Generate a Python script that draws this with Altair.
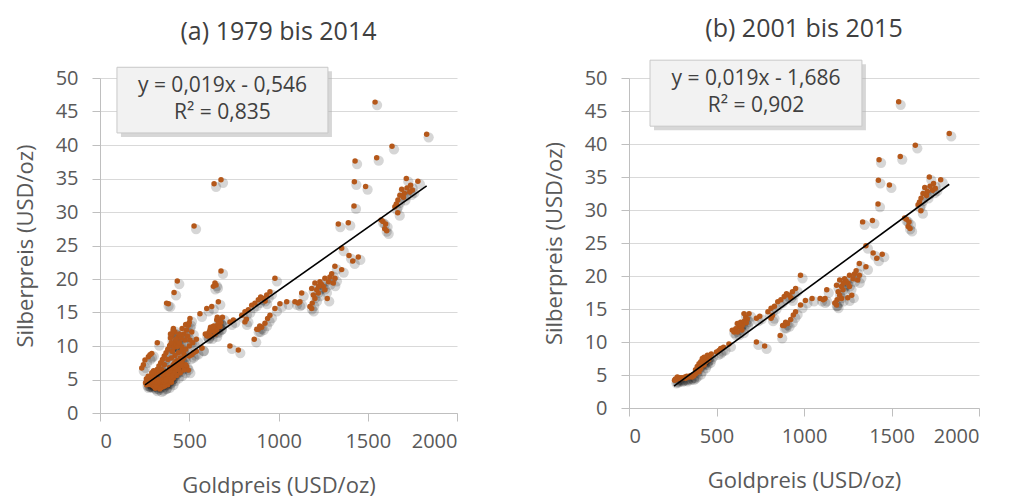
import altair as alt
import pandas as pd

# ---------------- data ----------------
# months 2001-2014 (appear in both panels)
gold_2001_2014 = [
    1541, 1830, 1636, 1429, 1550, 1425, 1488, 1716, 1781, 1423, 1335, 1391,
    1690, 1705, 1720, 1735, 1750, 1700, 1669, 1652, 1668, 1660, 1680, 1740,
    1585, 1600, 1595, 1606, 1575,
    1354, 1395, 1447, 1416, 1316, 1354,
    1298, 1288, 1260, 1316, 1307,
    1204, 1232, 1251, 1186, 1214, 1260, 1240, 1225, 1280,
    1195, 1223, 1204, 1189, 1176, 1186, 1273,
    1130, 1092, 1120, 1110,
    1046, 1008, 980, 952, 939, 924, 906, 887, 878, 864, 895,
    980,
    952, 934, 915, 887, 868, 850, 831, 812, 794, 747, 728, 812, 900, 925, 820,
    728, 775,
    686, 667, 657, 676, 648, 638, 629, 619, 610, 600, 619, 590, 660, 645, 630, 670,
    571, 514, 524, 540,
    448, 429, 419, 438, 429, 410, 400, 381, 362, 343, 324, 295, 276,
    265, 270, 260, 280, 290, 300, 310, 320, 330, 350, 360, 370, 380, 390, 400,
    410, 420, 425, 440, 445, 455, 460, 470, 500,
]
silver_2001_2014 = [
    46.4, 41.6, 39.8, 37.6, 38.1, 34.5, 33.8, 35.0, 34.6, 30.9, 28.2, 28.4,
    33.4, 32.8, 33.6, 33.0, 33.3, 32.2, 31.8, 30.8, 29.9, 31.2, 32.5, 34.0,
    28.6, 28.2, 27.5, 27.2, 28.8,
    24.6, 23.5, 23.3, 22.7, 21.9, 21.4,
    20.8, 20.3, 20.1, 20.1, 19.4,
    19.4, 19.6, 18.9, 18.6, 18.4, 18.4, 19.2, 18.9, 19.6,
    17.6, 17.9, 17.1, 16.4, 15.9, 15.6, 17.1,
    17.9, 16.6, 16.6, 16.4,
    16.6, 16.3, 15.6, 14.6, 14.1, 13.4, 12.8, 12.5, 12.5, 11.0, 13.0,
    20.1,
    18.1, 17.6, 17.1, 16.9, 16.4, 16.1, 15.4, 15.1, 14.6, 13.9, 13.6, 13.6, 17.3, 16.7, 14.0,
    10.0, 9.4,
    14.3, 13.8, 14.3, 13.5, 12.5, 13.0, 12.3, 12.8, 12.0, 11.5, 11.5, 11.8, 13.2, 11.8, 12.8, 12.9,
    9.7, 8.7, 9.0, 9.2,
    8.0, 7.7, 7.5, 7.0, 6.5, 6.0, 5.5, 5.2, 5.0, 4.7, 4.5, 4.4, 4.7,
    4.4, 4.3, 4.2, 4.5, 4.6, 4.6, 4.6, 4.7, 4.8, 4.9, 4.7, 4.9, 5.8, 6.3, 6.7,
    7.0, 6.9, 7.2, 7.4, 7.6, 7.3, 7.8, 8.2, 8.5,
]
# months 1979-2000 (panel a only)
gold_1979_2000 = [
    527, 639, 678,
    678, 644, 635, 650, 433, 415, 383, 373,
    663, 626, 598, 560, 504, 495,
    654, 672, 635, 616, 654, 598, 672,
    411, 420, 402, 439, 420, 392, 430, 458, 476, 514, 504,
    321, 290, 271, 252, 234, 243, 280,
    570, 486, 495,
    300, 310, 320, 330, 340, 350, 360, 370, 380, 390, 400, 395, 405, 415, 425,
    435, 445, 455, 470, 485, 490, 460, 440, 420, 400, 380, 360, 345, 330, 315,
    350, 370, 390, 410, 430, 450, 470, 480, 500, 520, 540, 460, 440, 420, 400,
    380, 360, 340, 320, 330, 350, 370, 390, 410, 430, 450, 470, 480, 360, 380,
    400, 345, 365, 385, 395, 355, 375, 290, 280, 295, 285, 300, 310, 320, 335,
    275, 265, 260, 255, 305, 315, 290, 300, 290, 270, 395, 410, 425, 445, 460,
    480, 500,
]
silver_1979_2000 = [
    27.9, 34.2, 34.8,
    21.2, 19.4, 18.9, 19.1, 19.7, 18.0, 16.3, 16.4,
    16.6, 15.9, 15.6, 14.8, 14.1, 13.1,
    13.9, 13.6, 12.9, 12.4, 12.4, 11.6, 12.9,
    12.6, 12.1, 11.6, 11.4, 10.6, 10.1, 9.9, 9.9, 10.9, 12.1, 10.9,
    10.5, 8.9, 8.4, 7.9, 6.7, 7.2, 8.7,
    9.7, 6.9, 6.4,
    5.5, 6.0, 6.5, 7.0, 7.5, 8.0, 8.5, 9.0, 9.5, 10.0, 10.5, 11.2, 9.2, 9.8, 10.2,
    10.0, 10.5, 11.2, 11.8, 12.4, 11.5, 9.4, 9.0, 8.6, 8.2, 8.0, 7.2, 6.5, 6.0, 5.2,
    5.8, 6.2, 6.8, 7.2, 7.8, 8.2, 8.8, 9.5, 10.0, 10.5, 11.0, 7.0, 6.5, 6.2, 5.9,
    5.6, 5.3, 5.0, 4.6, 4.2, 4.4, 4.6, 5.0, 5.2, 5.6, 6.0, 6.4, 7.2, 4.0, 4.2,
    4.6, 3.8, 4.1, 4.8, 5.4, 5.0, 5.4, 5.0, 5.2, 4.8, 4.2, 4.0, 3.7, 3.9, 3.6,
    4.3, 4.8, 5.1, 4.5, 4.4, 4.1, 5.6, 6.3, 6.0, 5.5, 11.8, 12.3, 11.0, 11.8, 12.6,
    13.2, 13.5,
]
# months 2015 (panel b only)
gold_2015 = [1250, 1215, 1180]
silver_2015 = [16.7, 16.6, 15.9]

# trend lines (end points) and labels
trend_gold_a = [252, 1830]
trend_silver_a = [4.2, 33.9]
trend_gold_b = [257, 1830]
trend_silver_b = [3.3, 33.9]

eq_a = ["y = 0,019x - 0,546", "R² = 0,835"]
eq_b = ["y = 0,019x - 1,686", "R² = 0,902"]
titles = ["(a) 1979 bis 2014", "(b) 2001 bis 2015"]
x_ticks = [0, 500, 1000, 1500, 2000]
y_ticks = [0, 5, 10, 15, 20, 25, 30, 35, 40, 45, 50]

FONT = "Open Sans"
DOT = "#B5581A"


def panel(gold, silver, tg, ts, eq, box, eq_x, eq_y, title, w, h, toff):
    pts = pd.DataFrame({"gold": gold, "silver": silver})
    trend = pd.DataFrame({"gold": tg, "silver": ts})
    boxdf = pd.DataFrame({"gold": [box[0]], "x1": [box[1]], "silver": [box[2]], "y1": [box[3]]})
    txt = pd.DataFrame({"gold": [eq_x, eq_x], "silver": eq_y, "t": eq})

    xs = alt.Scale(domain=[0, 2000], nice=False)
    ys = alt.Scale(domain=[0, 50], nice=False)
    xax = alt.Axis(values=x_ticks, grid=False, title="Goldpreis (USD/oz)",
                   format="d", labelOverlap=False,
                   domainColor="#bfbfbf", tickColor="#bfbfbf", tickSize=8,
                   labelFont=FONT, labelFontSize=20, labelColor="#595959", labelPadding=10,
                   titleFont=FONT, titleFontSize=22, titleColor="#595959", titleFontWeight="normal",
                   titlePadding=24)
    yax = alt.Axis(values=y_ticks, grid=True, gridColor="#d9d9d9",
                   title="Silberpreis (USD/oz)", labelOverlap=False, tickCount=11,
                   domainColor="#bfbfbf", tickColor="#bfbfbf", tickSize=8,
                   labelFont=FONT, labelFontSize=20, labelColor="#595959", labelPadding=14,
                   titleFont=FONT, titleFontSize=22, titleColor="#595959", titleFontWeight="normal",
                   titlePadding=18)
    X = alt.X("gold:Q", scale=xs, axis=xax)
    Y = alt.Y("silver:Q", scale=ys, axis=yax)

    shadow = alt.Chart(pts).mark_circle(color="black", opacity=0.16, size=105,
                                        xOffset=2, yOffset=3).encode(x=X, y=Y)
    dots = alt.Chart(pts).mark_circle(color=DOT, opacity=1, size=30).encode(x=X, y=Y)
    line = alt.Chart(trend).mark_line(color="black", strokeWidth=1.6).encode(x=X, y=Y)
    bshadow = alt.Chart(boxdf).mark_rect(color="#b0b0b0", opacity=0.5,
                                         xOffset=4, x2Offset=4, yOffset=4, y2Offset=4).encode(
        x=X, x2="x1", y=Y, y2="y1")
    brect = alt.Chart(boxdf).mark_rect(fill="#f2f2f2", stroke="#c8c8c8", strokeWidth=1).encode(
        x=X, x2="x1", y=Y, y2="y1")
    text = alt.Chart(txt).mark_text(font=FONT, fontSize=21, color="#404040",
                                    align="center", baseline="middle").encode(
        x=X, y=Y, text="t:N")

    return alt.layer(shadow, dots, line, bshadow, brect, text).properties(
        width=w, height=h,
        title=alt.TitleParams(title, font=FONT, fontSize=25, fontWeight="normal",
                              color="#404040", offset=toff))


pa = panel(gold_1979_2000 + gold_2001_2014, silver_1979_2000 + silver_2001_2014,
           trend_gold_a, trend_silver_a, eq_a, [95, 1277, 41.8, 51.6], 686, [48.8, 44.8],
           titles[0], 357, 335, 22)
pb = panel(gold_2001_2014 + gold_2015, silver_2001_2014 + silver_2015,
           trend_gold_b, trend_silver_b, eq_b, [120, 1331, 42.7, 52.7], 726, [49.8, 45.8],
           titles[1], 350, 330, 18)

chart = alt.hconcat(pa, pb, spacing=85).properties(
    padding={"left": 6, "top": 8, "right": 5, "bottom": 0}
).configure_view(stroke=None)

chart.save("out.html", embed_options={"renderer": "svg", "actions": False})
